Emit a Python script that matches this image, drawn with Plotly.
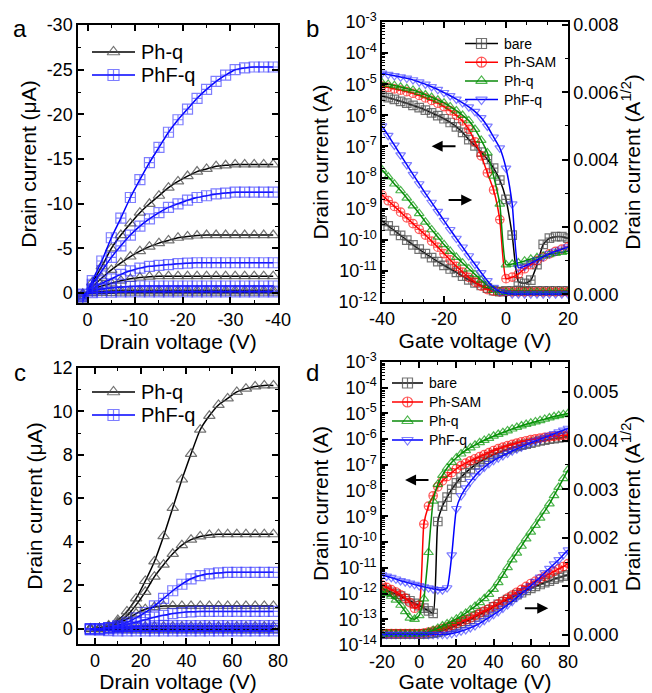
import plotly.graph_objects as go

W, H = 652, 693

# ---------------- panel a : output curves, negative drain voltage ----------------
VD_A = [1, -1, -3, -5, -7, -9, -11, -13, -15, -17, -19, -21, -23, -25, -27, -29, -31, -33, -35, -37, -39]
PHQ_A = [
    [0.7, -1.2, -3.0, -5.0, -6.5, -7.8, -9.0, -10.0, -10.9, -11.8, -12.5, -13.1, -13.6, -13.9, -14.2, -14.3, -14.4, -14.4, -14.4, -14.4, -14.4],
    [0.5, -0.7, -1.7, -2.6, -3.4, -4.1, -4.7, -5.2, -5.6, -5.9, -6.2, -6.35, -6.45, -6.5, -6.5, -6.5, -6.5, -6.5, -6.5, -6.5, -6.5],
    [0.3, -0.4, -0.8, -1.1, -1.4, -1.6, -1.75, -1.85, -1.9, -1.9, -1.9, -1.9, -1.9, -1.9, -1.9, -1.9, -1.9, -1.9, -1.9, -1.9, -1.9],
    [0.15, -0.1, -0.2, -0.25, -0.3, -0.3, -0.3, -0.3, -0.3, -0.3, -0.3, -0.3, -0.3, -0.3, -0.3, -0.3, -0.3, -0.3, -0.3, -0.3, -0.3],
    [0.05, 0.0, -0.02, -0.03, -0.05, -0.05, -0.05, -0.05, -0.05, -0.05, -0.05, -0.05, -0.05, -0.05, -0.05, -0.05, -0.05, -0.05, -0.05, -0.05, -0.05],
]
PHFQ_A = [
    [0.9, -1.4, -3.6, -6.2, -8.4, -10.7, -12.7, -14.6, -16.3, -18.0, -19.4, -20.6, -21.8, -22.8, -23.7, -24.4, -25.0, -25.2, -25.3, -25.3, -25.3],
    [0.6, -1.0, -2.5, -4.0, -5.3, -6.5, -7.5, -8.3, -9.0, -9.6, -10.0, -10.4, -10.7, -10.9, -11.1, -11.2, -11.3, -11.3, -11.3, -11.3, -11.3],
    [0.4, -0.5, -1.1, -1.6, -2.1, -2.5, -2.8, -3.0, -3.1, -3.2, -3.3, -3.35, -3.4, -3.4, -3.4, -3.4, -3.4, -3.4, -3.4, -3.4, -3.4],
    [0.2, -0.25, -0.45, -0.6, -0.7, -0.75, -0.8, -0.8, -0.8, -0.8, -0.8, -0.8, -0.8, -0.8, -0.8, -0.8, -0.8, -0.8, -0.8, -0.8, -0.8],
    [0.1, -0.05, -0.1, -0.12, -0.15, -0.15, -0.15, -0.15, -0.15, -0.15, -0.15, -0.15, -0.15, -0.15, -0.15, -0.15, -0.15, -0.15, -0.15, -0.15, -0.15],
]
A_XTICKS = [0, -10, -20, -30, -40]
A_YTICKS = [0, -5, -10, -15, -20, -25, -30]

# ---------------- panel b : transfer curves, p-type ----------------
VG_B = [-40, -38, -36, -34, -32, -30, -28, -26, -24, -22, -20, -18, -16, -14, -12, -10,
        -8, -6, -4, -2, 0, 2, 4, 6, 8, 10, 12, 14, 16, 18, 20]
# log10 of drain current (A)
BARE_B_LOG = [-5.38, -5.43, -5.49, -5.55, -5.61, -5.68, -5.75, -5.83, -5.92, -6.01, -6.11, -6.23, -6.37, -6.55, -6.78, -6.98,
              -7.18, -7.42, -7.70, -8.08, -8.70, -9.85, -11.35, -11.40, -11.30, -10.80, -10.15, -9.95, -9.90, -9.90, -9.95]
SAM_B_LOG = [-5.06, -5.10, -5.15, -5.19, -5.24, -5.29, -5.36, -5.44, -5.52, -5.61, -5.72, -5.85, -6.00, -6.18, -6.45, -6.85,
             -7.30, -7.85, -8.40, -9.35, -11.25, -11.20, -11.10, -10.93, -10.80, -10.66, -10.55, -10.45, -10.37, -10.30, -10.23]
PHQ_B_LOG = [-4.95, -5.00, -5.04, -5.09, -5.14, -5.19, -5.26, -5.34, -5.42, -5.51, -5.60, -5.72, -5.85, -6.00, -6.17, -6.45,
             -6.80, -7.20, -7.95, -8.85, -10.80, -10.78, -10.74, -10.68, -10.62, -10.57, -10.52, -10.47, -10.43, -10.40, -10.37]
PHFQ_B_LOG = [-4.65, -4.69, -4.73, -4.77, -4.81, -4.86, -4.93, -5.00, -5.08, -5.17, -5.27, -5.37, -5.48, -5.60, -5.73, -5.88,
              -6.08, -6.35, -6.70, -7.05, -7.70, -8.85, -10.90, -10.85, -10.75, -10.65, -10.55, -10.45, -10.37, -10.30, -10.23]
# sqrt of drain current (A^1/2), right axis
BARE_B_SQRT = [0.00218, 0.00203, 0.00189, 0.00175, 0.00161, 0.00147, 0.00134, 0.00121, 0.00109, 0.00097, 0.00086, 0.00075,
               0.00065, 0.00054, 0.00043, 0.00034, 0.00026, 0.00018, 0.00011, 0.00008, 0.0001, 0.0001, 0.0001, 0.0001,
               0.0001, 0.0001, 0.0001, 0.0001, 0.0001, 0.0001, 0.0001]
SAM_B_SQRT = [0.00295, 0.00278, 0.00261, 0.00244, 0.00227, 0.00210, 0.00193, 0.00176, 0.00158, 0.00140, 0.00121, 0.00102,
              0.00083, 0.00066, 0.00050, 0.00036, 0.00024, 0.00014, 0.00009, 0.00007, 0.00007, 0.00007, 0.00007, 0.00007,
              0.00007, 0.00007, 0.00007, 0.00007, 0.00007, 0.00007, 0.00007]
PHQ_B_SQRT = [0.00370, 0.00349, 0.00328, 0.00308, 0.00286, 0.00263, 0.00240, 0.00215, 0.00192, 0.00170, 0.00148, 0.00128,
              0.00110, 0.00093, 0.00076, 0.00059, 0.00042, 0.00026, 0.00012, 0.00007, 0.00006, 0.00006, 0.00006, 0.00006,
              0.00006, 0.00006, 0.00006, 0.00006, 0.00006, 0.00006, 0.00006]
PHFQ_B_SQRT = [0.00500, 0.00472, 0.00443, 0.00414, 0.00385, 0.00356, 0.00328, 0.00300, 0.00273, 0.00246, 0.00219, 0.00192,
               0.00166, 0.00140, 0.00114, 0.00089, 0.00064, 0.00040, 0.00020, 0.00008, 0.00003, 0.00001, 0.00001, 0.00001,
               0.00001, 0.00001, 0.00001, 0.00001, 0.00001, 0.00001, 0.00001]
B_XTICKS = [-40, -20, 0, 20]

# ---------------- panel c : output curves, positive drain voltage ----------------
VD_C = [-2, 2, 6, 10, 14, 18, 22, 26, 30, 34, 38, 42, 46, 50, 54, 58, 62, 66, 70, 74, 78]
PHQ_C = [
    [0.0, 0.02, 0.15, 0.4, 0.8, 1.4, 2.2, 3.1, 4.26, 5.56, 6.87, 8.05, 9.16, 9.8, 10.3, 10.6, 10.9, 11.05, 11.15, 11.2, 11.2],
    [0.0, 0.02, 0.1, 0.3, 0.6, 1.1, 1.7, 2.4, 2.95, 3.45, 3.85, 4.1, 4.25, 4.32, 4.35, 4.35, 4.35, 4.35, 4.35, 4.35, 4.35],
    [0.0, 0.02, 0.1, 0.25, 0.45, 0.7, 0.9, 1.0, 1.05, 1.05, 1.05, 1.05, 1.05, 1.05, 1.05, 1.05, 1.05, 1.05, 1.05, 1.05, 1.05],
    [0.0, 0.02, 0.05, 0.08, 0.1, 0.1, 0.1, 0.1, 0.1, 0.1, 0.1, 0.1, 0.1, 0.1, 0.1, 0.1, 0.1, 0.1, 0.1, 0.1, 0.1],
    [-0.02, -0.03, -0.04, -0.05, -0.05, -0.05, -0.05, -0.05, -0.05, -0.05, -0.05, -0.05, -0.05, -0.05, -0.05, -0.05, -0.05, -0.05, -0.05, -0.05, -0.05],
]
PHFQ_C = [
    [0.0, 0.0, 0.05, 0.15, 0.3, 0.5, 0.75, 1.05, 1.4, 1.75, 2.05, 2.3, 2.45, 2.53, 2.57, 2.6, 2.6, 2.6, 2.6, 2.6, 2.6],
    [0.0, 0.0, 0.05, 0.1, 0.2, 0.3, 0.42, 0.53, 0.62, 0.7, 0.75, 0.78, 0.8, 0.8, 0.8, 0.8, 0.8, 0.8, 0.8, 0.8, 0.8],
    [0.0, 0.0, 0.03, 0.06, 0.1, 0.12, 0.14, 0.15, 0.15, 0.15, 0.15, 0.15, 0.15, 0.15, 0.15, 0.15, 0.15, 0.15, 0.15, 0.15, 0.15],
    [0.0, 0.0, 0.0, 0.01, 0.02, 0.02, 0.02, 0.02, 0.02, 0.02, 0.02, 0.02, 0.02, 0.02, 0.02, 0.02, 0.02, 0.02, 0.02, 0.02, 0.02],
    [-0.05, -0.06, -0.08, -0.1, -0.1, -0.1, -0.1, -0.1, -0.1, -0.1, -0.1, -0.1, -0.1, -0.1, -0.1, -0.1, -0.1, -0.1, -0.1, -0.1, -0.1],
]

# ---------------- panel d : transfer curves, n-type ----------------
VG_D = [-20, -17.5, -15, -12.5, -10, -7.5, -5, -2.5, 0, 2.5, 5, 7.5, 10, 12.5, 15, 17.5, 20, 22.5, 25, 27.5,
        30, 32.5, 35, 37.5, 40, 42.5, 45, 47.5, 50, 52.5, 55, 57.5, 60, 62.5, 65, 67.5, 70, 72.5, 75, 77.5, 80]
BARE_D_LOG = [-11.80, -11.88, -11.95, -12.02, -12.10, -12.20, -12.28, -12.38, -12.47, -12.57, -12.67, -12.77,
              -9.20, -8.60, -8.25, -7.95, -7.70, -7.48, -7.30, -7.15, -7.00, -6.88, -6.78, -6.69, -6.60, -6.53,
              -6.46, -6.40, -6.33, -6.28, -6.23, -6.19, -6.15, -6.11, -6.07, -6.04, -6.00, -5.98, -5.95, -5.93, -5.90]
SAM_D_LOG = [-11.67, -11.76, -11.85, -11.94, -12.05, -12.18, -12.35, -12.57, -12.45,
             -9.30, -8.60, -8.20, -7.85, -7.62, -7.45, -7.30, -7.15, -7.03, -6.93, -6.84, -6.76, -6.68, -6.60,
             -6.52, -6.44, -6.37, -6.31, -6.25, -6.20, -6.15, -6.10, -6.06, -6.02, -5.99, -5.96, -5.93, -5.91,
             -5.89, -5.87, -5.85, -5.84]
PHQ_D_LOG = [-11.90, -12.00, -12.10, -12.25, -12.45, -12.70, -12.95, -13.00, -12.85, -12.20, -10.40, -8.40,
             -7.75, -7.40, -7.12, -6.90, -6.72, -6.57, -6.44, -6.33, -6.23, -6.13, -6.04, -5.96, -5.88, -5.81,
             -5.74, -5.67, -5.60, -5.54, -5.48, -5.42, -5.37, -5.32, -5.27, -5.22, -5.17, -5.12, -5.08, -5.04, -5.00]
PHFQ_D_LOG = [-11.28, -11.33, -11.38, -11.44, -11.50, -11.55, -11.60, -11.65, -11.70, -11.74, -11.78, -11.82,
              -11.85, -11.86, -11.78, -10.50, -8.70, -8.20, -7.90, -7.65, -7.43, -7.24, -7.09, -6.95, -6.83,
              -6.73, -6.64, -6.55, -6.46, -6.38, -6.30, -6.22, -6.14, -6.07, -6.00, -5.93, -5.86, -5.79, -5.72,
              -5.65, -5.58]
BARE_D_SQRT = [0.00002, 0.00002, 0.00002, 0.00002, 0.00002, 0.00002, 0.00002, 0.00002, 0.00002, 0.00002,
               0.00003, 0.00004, 0.00006, 0.00009, 0.00012, 0.00016, 0.00020, 0.00024, 0.00028, 0.00032,
               0.00037, 0.00042, 0.00047, 0.00052, 0.00058, 0.00063, 0.00068, 0.00073, 0.00078, 0.00083,
               0.00087, 0.00092, 0.00096, 0.00100, 0.00104, 0.00108, 0.00111, 0.00115, 0.00118, 0.00121, 0.00124]
SAM_D_SQRT = [0.00003, 0.00003, 0.00003, 0.00003, 0.00003, 0.00003, 0.00003, 0.00003, 0.00003,
              0.00004, 0.00006, 0.00008, 0.00010, 0.00013, 0.00016, 0.00020, 0.00024, 0.00028, 0.00031,
              0.00035, 0.00040, 0.00045, 0.00049, 0.00054, 0.00059, 0.00064, 0.00070, 0.00076, 0.00082,
              0.00088, 0.00094, 0.00100, 0.00106, 0.00111, 0.00116, 0.00121, 0.00126, 0.00131, 0.00136,
              0.00141, 0.00147]
PHQ_D_SQRT = [0.00002, 0.00002, 0.00002, 0.00002, 0.00002, 0.00002, 0.00002, 0.00002, 0.00002,
              0.00003, 0.00006, 0.00010, 0.00014, 0.00019, 0.00023, 0.00028, 0.00033, 0.00039, 0.00045,
              0.00052, 0.00059, 0.00067, 0.00075, 0.00084, 0.00094, 0.00108, 0.00123, 0.00139, 0.00155,
              0.00169, 0.00183, 0.00198, 0.00212, 0.00226, 0.00241, 0.00255, 0.00270, 0.00287, 0.00304,
              0.00322, 0.00340]
PHFQ_D_SQRT = [0.00001, 0.00001, 0.00001, 0.00001, 0.00001, 0.00001, 0.00001, 0.00001, 0.00001, 0.00001,
               0.00001, 0.00001, 0.00001, 0.00001, 0.00001,
               0.00003, 0.00005, 0.00008, 0.00011, 0.00015, 0.00019, 0.00024, 0.00030, 0.00036, 0.00042,
               0.00048, 0.00055, 0.00062, 0.00069, 0.00077, 0.00085, 0.00093, 0.00101, 0.00110, 0.00119,
               0.00128, 0.00137, 0.00146, 0.00155, 0.00165, 0.00175]
D_XTICKS = [-20, 0, 20, 40, 60, 80]

FONT = "Liberation Sans, Arial, sans-serif"
BLACK, GREY = "#000000", "rgba(80,80,80,0.8)"
BLUE, LBLUE = "#0000ff", "rgba(40,40,255,0.6)"
RED, LRED = "#ff0000", "rgba(255,0,0,0.65)"
GREEN, LGREEN = "#0a8a0a", "rgba(0,150,0,0.7)"

STYLE = {
    "bare": (BLACK, GREY, "square-cross-open"),
    "Ph-SAM": (RED, LRED, "circle-cross-open"),
    "Ph-q": (GREEN, LGREEN, "triangle-up-open"),
    "PhF-q": (BLUE, LBLUE, "triangle-down-open"),
}
STYLE_OUT = {
    "Ph-q": (BLACK, GREY, "triangle-up-open"),
    "PhF-q": (BLUE, LBLUE, "square-cross-open"),
}


def fx(px):
    return px / W


def fy(px):
    return 1 - px / H


def labels(vals):
    # plain hyphen for negative numbers, like the original figure
    return [str(v) for v in vals]


def curve(x, y, xa, ya, style, size):
    color, mcolor, symbol = style
    return go.Scatter(
        x=x, y=y, xaxis=xa, yaxis=ya, mode="lines+markers", showlegend=False,
        line=dict(color=color, width=1.5, shape="spline", smoothing=0.5),
        marker=dict(symbol=symbol, size=size, color=mcolor, line=dict(color=mcolor, width=1.2)),
    )


fig = go.Figure()

# panel a
for ys in PHQ_A:
    fig.add_trace(curve(VD_A, ys, "x", "y", STYLE_OUT["Ph-q"], 10))
for ys in PHFQ_A:
    fig.add_trace(curve(VD_A, ys, "x", "y", STYLE_OUT["PhF-q"], 10))

# panel b
for name, lg, sq in [("bare", BARE_B_LOG, BARE_B_SQRT), ("Ph-SAM", SAM_B_LOG, SAM_B_SQRT),
                     ("Ph-q", PHQ_B_LOG, PHQ_B_SQRT), ("PhF-q", PHFQ_B_LOG, PHFQ_B_SQRT)]:
    fig.add_trace(curve(VG_B, [10 ** e for e in lg], "x2", "y2", STYLE[name], 8.5))
    fig.add_trace(curve(VG_B, sq, "x2", "y3", STYLE[name], 8.5))

# panel c
for ys in PHQ_C:
    fig.add_trace(curve(VD_C, ys, "x3", "y4", STYLE_OUT["Ph-q"], 10))
for ys in PHFQ_C:
    fig.add_trace(curve(VD_C, ys, "x3", "y4", STYLE_OUT["PhF-q"], 10))

# panel d
for name, lg, sq in [("bare", BARE_D_LOG, BARE_D_SQRT), ("Ph-SAM", SAM_D_LOG, SAM_D_SQRT),
                     ("Ph-q", PHQ_D_LOG, PHQ_D_SQRT), ("PhF-q", PHFQ_D_LOG, PHFQ_D_SQRT)]:
    fig.add_trace(curve(VG_D, [10 ** e for e in lg], "x4", "y5", STYLE[name], 8.5))
    fig.add_trace(curve(VG_D, sq, "x4", "y6", STYLE[name], 8.5))

notes = []


# hand-made legends (Origin style: line with centred symbol), on a pixel overlay axis
def legend_keys(names, styles, x0, x1, y0, dy, fsize, msize):
    for i, name in enumerate(names):
        color, mcolor, symbol = styles[name]
        y = y0 + i * dy
        fig.add_trace(go.Scatter(
            x=[x0, (x0 + x1) / 2, x1], y=[y, y, y], xaxis="x5", yaxis="y7", mode="lines+markers",
            showlegend=False, hoverinfo="skip", line=dict(color=color, width=1.5),
            marker=dict(symbol=symbol, size=msize, color=mcolor, opacity=[0, 1, 0],
                        line=dict(color=mcolor, width=1.2)),
        ))
        notes.append(dict(text=name, x=x1 + 4, y=y, xref="x5", yref="y7", xanchor="left",
                          yanchor="middle", showarrow=False, font=dict(size=fsize, color="black")))


legend_keys(["Ph-q", "PhF-q"], STYLE_OUT, 92, 135, 52, 23, 20, 11)
legend_keys(["bare", "Ph-SAM", "Ph-q", "PhF-q"], STYLE, 465, 498, 43.5, 18.7, 14, 10)
legend_keys(["Ph-q", "PhF-q"], STYLE_OUT, 92, 135, 392, 23, 20, 11)
legend_keys(["bare", "Ph-SAM", "Ph-q", "PhF-q"], STYLE, 392, 423, 383, 19, 14, 10)


def ax(**kw):
    base = dict(
        showline=True, linecolor="black", linewidth=1.5, ticks="inside", ticklen=6, tickwidth=1.5,
        tickcolor="black", tickfont=dict(size=18, color="black"), showgrid=False, zeroline=False,
        title_font=dict(size=21, color="black"), title_standoff=4, automargin=False,
    )
    base.update(kw)
    return base


def minor(**kw):
    m = dict(ticks="inside", ticklen=3, tickwidth=1, tickcolor="black", showgrid=False)
    m.update(kw)
    return m


def log_ticks(lo, hi):
    vals = [10.0 ** e for e in range(lo, hi + 1)]
    text = ["10<sup>%d</sup>" % e for e in range(lo, hi + 1)]
    mvals = [k * 10.0 ** e for e in range(lo, hi) for k in range(2, 10)]
    return vals, text, mvals


b_vals, b_text, b_minor = log_ticks(-12, -3)
d_vals, d_text, d_minor = log_ticks(-14, -3)

fig.update_layout(
    width=W, height=H, margin=dict(l=0, r=0, t=0, b=0, autoexpand=False),
    paper_bgcolor="white", plot_bgcolor="rgba(0,0,0,0)", showlegend=False,
    font=dict(family=FONT, color="black"),
    xaxis=ax(domain=[fx(78), fx(278)], anchor="y", range=[2, -40], tickvals=A_XTICKS,
             ticktext=labels(A_XTICKS), minor=minor(tick0=0, dtick=5), mirror="ticks",
             title_text="Drain voltage (V)"),
    yaxis=ax(domain=[fy(303), fy(25)], anchor="x", range=[1.1, -30], tickvals=A_YTICKS,
             ticktext=labels(A_YTICKS), minor=minor(tick0=0, dtick=2.5), mirror="ticks",
             title_text="Drain current (μA)"),
    xaxis2=ax(domain=[fx(382), fx(568)], anchor="y2", range=[-40, 20], tickvals=B_XTICKS,
              ticktext=labels(B_XTICKS), minor=minor(tick0=-40, dtick=20 / 3), mirror="ticks",
              title_text="Gate voltage (V)"),
    yaxis2=ax(domain=[fy(302), fy(22)], anchor="x2", type="log", range=[-12, -3],
              tickvals=b_vals, ticktext=b_text, minor=minor(tickvals=b_minor),
              title_text="Drain current (A)"),
    yaxis3=ax(overlaying="y2", anchor="x2", side="right", range=[-0.00023, 0.00809], tick0=0,
              dtick=0.002, tickformat=".3f", minor=minor(dtick=0.001),
              title_text="Drain current (A<sup>1/2</sup>)"),
    xaxis3=ax(domain=[fx(78), fx(278)], anchor="y4", range=[-7.4, 80], tick0=0, dtick=20,
              minor=minor(dtick=10), mirror="ticks", title_text="Drain voltage (V)"),
    yaxis4=ax(domain=[fy(644), fy(368)], anchor="x3", range=[-0.7, 12], tick0=0, dtick=2,
              minor=minor(dtick=1), mirror="ticks", title_text="Drain current (μA)"),
    xaxis4=ax(domain=[fx(382), fx(568)], anchor="y5", range=[-20, 80], tickvals=D_XTICKS,
              ticktext=labels(D_XTICKS), minor=minor(tick0=-20, dtick=10), mirror="ticks",
              title_text="Gate voltage (V)", title_standoff=6),
    yaxis5=ax(domain=[fy(645), fy(362)], anchor="x4", type="log", range=[-14, -3],
              tickvals=d_vals, ticktext=d_text, minor=minor(tickvals=d_minor),
              title_text="Drain current (A)"),
    yaxis6=ax(overlaying="y5", anchor="x4", side="right", range=[-0.000206, 0.00562], tick0=0,
              dtick=0.001, tickformat=".3f", minor=minor(dtick=0.0005),
              title_text="Drain current (A<sup>1/2</sup>)"),
    # pixel overlay used only for the legend keys
    xaxis5=dict(domain=[0, 1], range=[0, W], visible=False, anchor="y7", fixedrange=True),
    yaxis7=dict(domain=[0, 1], range=[H, 0], visible=False, anchor="x5", fixedrange=True),
)

for txt, px, py in [("a", 20, 28), ("b", 312, 28), ("c", 20, 372), ("d", 312, 372)]:
    notes.append(dict(text=txt, x=fx(px), y=fy(py), xref="paper", yref="paper", showarrow=False,
                      xanchor="center", yanchor="middle", font=dict(size=24, color="black")))

# arrows pointing to the axis each curve family belongs to
for xr, yr, head, tail, yv in [("x2", "y3", -24.0, -15.8, 0.0044), ("x2", "y3", -10.9, -19.0, 0.0028),
                               ("x4", "y6", -7.6, 5.8, 0.00319), ("x4", "y6", 69.4, 56.0, 0.00055)]:
    notes.append(dict(x=head, y=yv, ax=tail, ay=yv, xref=xr, yref=yr, axref=xr, ayref=yr, text="",
                      showarrow=True, arrowhead=2, arrowsize=1.1, arrowwidth=2, arrowcolor="black"))
fig.update_layout(annotations=notes)

# drop the browser's default 8px body margin so the figure sits at the page origin
fig.write_html("out.html", config={"displayModeBar": False},
               post_script="document.body.style.margin='0';")
